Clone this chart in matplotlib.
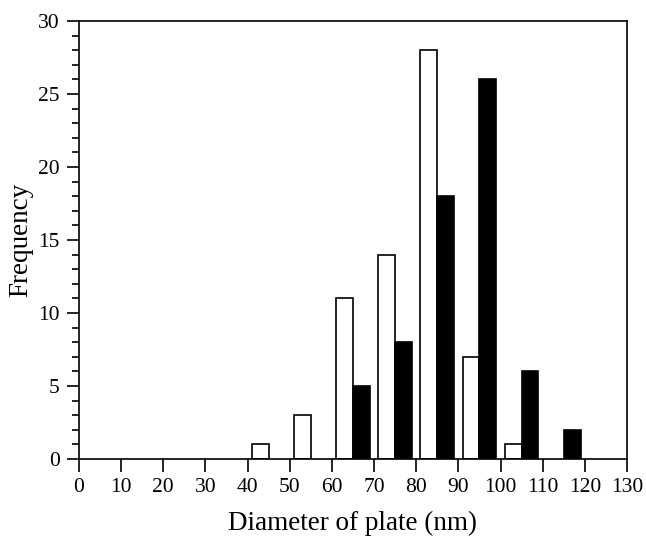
import matplotlib
matplotlib.use("Agg")
import matplotlib.pyplot as plt
from matplotlib.ticker import MultipleLocator

white_centers = [43, 53, 63, 73, 83, 93, 103]
white_freq = [1, 3, 11, 14, 28, 7, 1]
black_centers = [67, 77, 87, 97, 107, 117]
black_freq = [5, 8, 18, 26, 6, 2]
xticks = list(range(0, 131, 10))

plt.rcParams['font.family'] = ['Liberation Serif', 'DejaVu Serif']

fig = plt.figure(figsize=(6.46, 5.36), dpi=100)
ax = fig.add_axes([79/646, 1 - 459/536, (627-79)/646, (459-21)/536])

ax.bar(white_centers, white_freq, width=4, color='white', edgecolor='black', linewidth=1.2)
ax.bar(black_centers, black_freq, width=4, color='black', edgecolor='black', linewidth=1.2)

ax.set_xlim(0, 130)
ax.set_ylim(0, 30)
ax.set_xticks(xticks)
ax.yaxis.set_major_locator(MultipleLocator(5))
ax.yaxis.set_minor_locator(MultipleLocator(1))
ax.tick_params(axis='both', direction='out', labelsize=15.5, width=1.2, length=9, pad=5)
ax.tick_params(axis='y', which='minor', direction='out', length=5, width=1.2)
for s in ax.spines.values():
    s.set_linewidth(1.2)
ax.set_xlabel('Diameter of plate (nm)', fontsize=19.5, labelpad=10)
ax.set_ylabel('Frequency', fontsize=19.5, labelpad=3)

fig.savefig('out.png', dpi=100)
